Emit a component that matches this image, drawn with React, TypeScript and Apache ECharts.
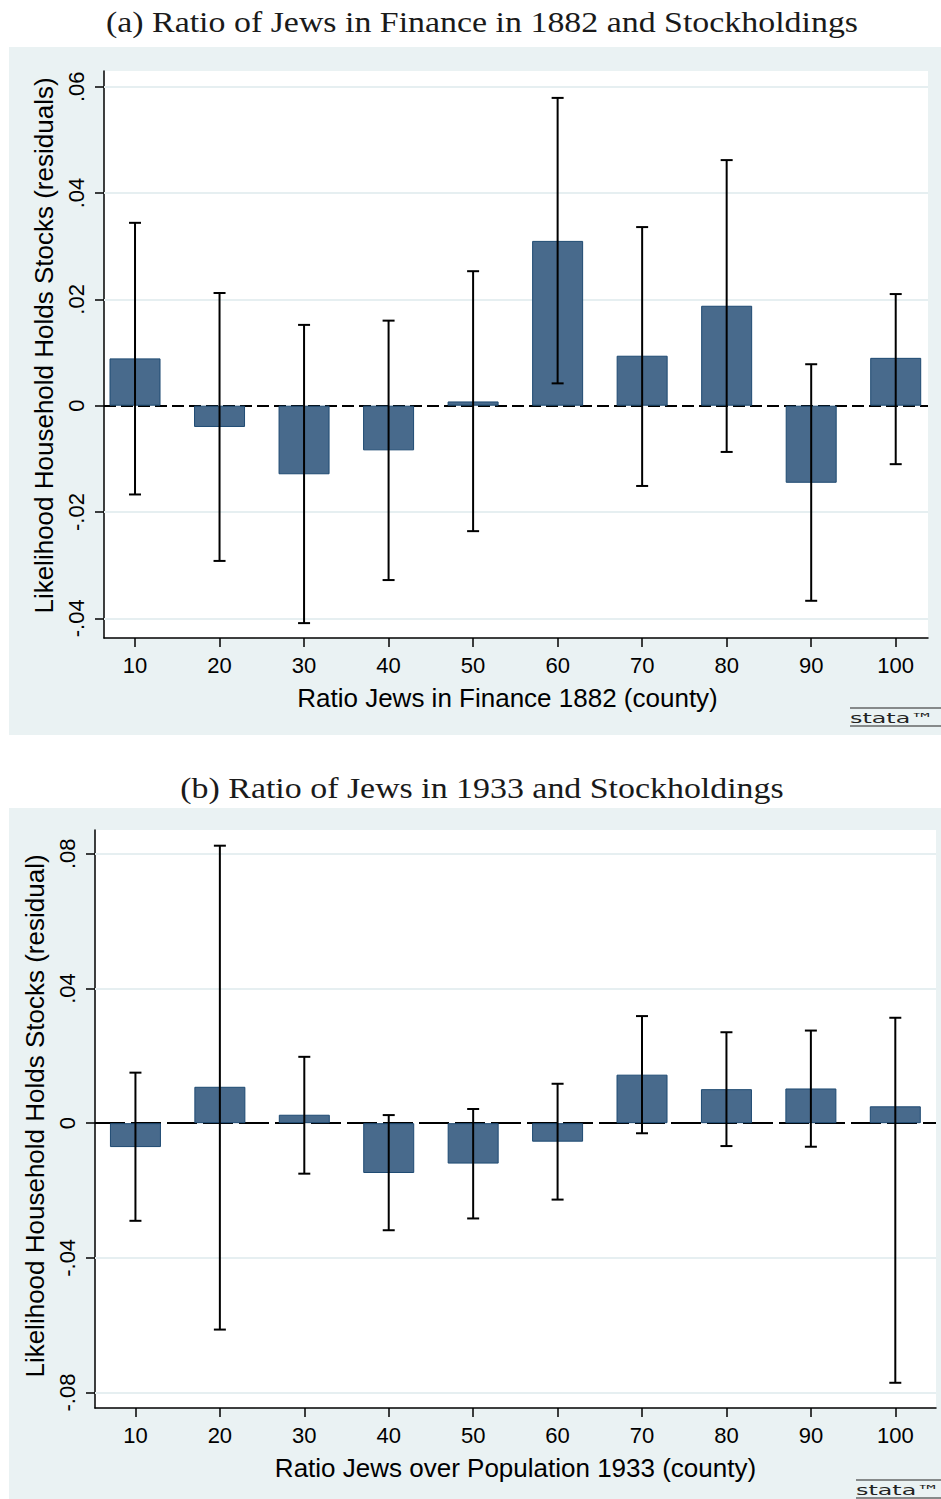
import React, { useEffect, useRef } from "react";
import * as echarts from "echarts";

// ---------- data ----------
const categories = [10, 20, 30, 40, 50, 60, 70, 80, 90, 100];

// Panel (a): Ratio of Jews in Finance 1882
const financeMeans = [0.0089, -0.004, -0.0129, -0.0084, 0.0008, 0.031, 0.0094, 0.0188, -0.0145, 0.009];
const financeUpper = [0.0344, 0.0212, 0.0152, 0.016, 0.0253, 0.0579, 0.0336, 0.0462, 0.0078, 0.021];
const financeLower = [-0.0167, -0.0292, -0.0409, -0.0328, -0.0236, 0.0042, -0.0151, -0.0087, -0.0367, -0.011];
const financeTicks = [-0.04, -0.02, 0, 0.02, 0.04, 0.06];

// Panel (b): Ratio of Jews over Population 1933
const popMeans = [-0.0071, 0.0108, 0.0025, -0.0148, -0.012, -0.0055, 0.0144, 0.0101, 0.0103, 0.005];
const popUpper = [0.015, 0.0824, 0.0197, 0.0024, 0.0042, 0.0117, 0.0318, 0.027, 0.0275, 0.0313];
const popLower = [-0.029, -0.0613, -0.015, -0.0318, -0.0283, -0.0227, -0.003, -0.0068, -0.007, -0.0771];
const popTicks = [-0.08, -0.04, 0, 0.04, 0.08];

const titleA = "(a) Ratio of Jews in Finance in 1882 and Stockholdings";
const titleB = "(b) Ratio of Jews in 1933 and Stockholdings";
const xNameA = "Ratio Jews in Finance 1882 (county)";
const xNameB = "Ratio Jews over Population 1933 (county)";
const yNameA = "Likelihood Household Holds Stocks (residuals)";
const yNameB = "Likelihood Household Holds Stocks (residual)";

// ---------- styles ----------
const PANEL = "#EAF2F3";
const GRIDLINE = "#E6EFF1";
const BAR = "#486A8C";
const BAR_EDGE = "#1E4A72";
const SANS = "Liberation Sans";
const SERIF = "Liberation Serif";

const fmtY = (v: number) => {
  const r = Math.round(v * 100) / 100;
  if (r === 0) return "0";
  const s = Math.abs(r).toFixed(2).replace(/^0/, "");
  return (r < 0 ? "-" : "") + s;
};

function errorRender(params: any, api: any) {
  const x = api.value(0);
  const lo = api.value(1);
  const hi = api.value(2);
  const pHi = api.coord([x, hi]);
  const pLo = api.coord([x, lo]);
  const cap = 6;
  const style = { stroke: "#000", lineWidth: 2 };
  return {
    type: "group",
    children: [
      { type: "line", shape: { x1: pHi[0], y1: pHi[1], x2: pLo[0], y2: pLo[1] }, style },
      { type: "line", shape: { x1: pHi[0] - cap, y1: pHi[1], x2: pHi[0] + cap, y2: pHi[1] }, style },
      { type: "line", shape: { x1: pLo[0] - cap, y1: pLo[1], x2: pLo[0] + cap, y2: pLo[1] }, style },
    ],
  };
}

function makeXAxis(gridIndex: number, min: number, max: number, name: string, namePad: number[]) {
  return {
    type: "value",
    gridIndex,
    min,
    max,
    name,
    nameLocation: "middle",
    nameGap: 47,
    nameTextStyle: { fontFamily: SANS, fontSize: 26, color: "#000", padding: namePad },
    axisLine: { show: true, onZero: false, lineStyle: { color: "#000", width: 1.5 } },
    axisTick: { show: true, length: 9, lineStyle: { color: "#000", width: 1.5 }, customValues: categories },
    axisLabel: {
      show: true,
      fontFamily: SANS,
      fontSize: 22,
      color: "#000",
      margin: 16,
      customValues: categories,
      formatter: (v: number) => String(Math.round(v)),
    },
    splitLine: { show: false },
  };
}

function makeYAxis(
  gridIndex: number,
  min: number,
  max: number,
  ticks: number[],
  name: string,
  nameGap: number,
  namePad: number[]
) {
  return {
    type: "value",
    gridIndex,
    min,
    max,
    name,
    nameLocation: "middle",
    nameGap,
    nameRotate: 90,
    nameTextStyle: { fontFamily: SANS, fontSize: 26, color: "#000", padding: namePad },
    axisLine: { show: true, onZero: false, lineStyle: { color: "#000", width: 1.5 } },
    axisTick: { show: true, length: 9, lineStyle: { color: "#000", width: 1.5 }, customValues: ticks },
    axisLabel: {
      show: true,
      rotate: 90,
      fontFamily: SANS,
      fontSize: 22,
      color: "#000",
      margin: 17,
      customValues: ticks,
      formatter: fmtY,
    },
    splitLine: { show: false },
  };
}

function barSeries(idx: number, means: number[], ticks: number[], dash: number[]) {
  return {
    type: "bar",
    xAxisIndex: idx,
    yAxisIndex: idx,
    barWidth: 51,
    z: 2,
    itemStyle: { color: BAR, borderColor: BAR_EDGE, borderWidth: 1 },
    data: categories.map((c, i) => [c, means[i]]),
    markLine: {
      silent: true,
      z: 1,
      symbol: "none",
      label: { show: false },
      data: [
        ...ticks
          .filter((t) => Math.abs(t) > 1e-9)
          .map((t) => ({ yAxis: t, lineStyle: { color: GRIDLINE, width: 2, type: "solid" } })),
        { yAxis: 0, lineStyle: { color: "#000", width: 2, type: dash } },
      ],
    },
  };
}

function errSeries(idx: number, lower: number[], upper: number[]) {
  return {
    type: "custom",
    xAxisIndex: idx,
    yAxisIndex: idx,
    z: 3,
    renderItem: errorRender,
    encode: { x: 0, y: [1, 2] },
    data: categories.map((c, i) => [c, lower[i], upper[i]]),
  };
}

function stataLogo(x: number, yTop: number, yBot: number) {
  return {
    type: "group",
    children: [
      { type: "line", shape: { x1: x, y1: yTop, x2: 941, y2: yTop }, style: { stroke: "#222", lineWidth: 1.2 } },
      {
        type: "text",
        x: x,
        y: (yTop + yBot) / 2 + 1,
        scaleX: 1.7,
        style: {
          text: "stata™",
          fontFamily: "DejaVu Sans",
          fontSize: 14,
          fill: "#222",
          textVerticalAlign: "middle",
          textAlign: "left",
        },
      },
      { type: "line", shape: { x1: x, y1: yBot, x2: 941, y2: yBot }, style: { stroke: "#222", lineWidth: 1.2 } },
    ],
  };
}

function title(text: string, y: number) {
  return {
    type: "text",
    x: 482,
    y,
    scaleX: 1.13,
    style: {
      text,
      fontFamily: SERIF,
      fontSize: 30,
      fill: "#1a1a1a",
      textAlign: "center",
      textVerticalAlign: "middle",
    },
  };
}

export default function App() {
  const ref = useRef<HTMLDivElement>(null);

  useEffect(() => {
    if (!ref.current) return;
    const chart = echarts.init(ref.current, undefined, { renderer: "svg" });
    const option: any = {
      animation: false,
      backgroundColor: "#fff",
      grid: [
        { left: 104, top: 71, width: 824, height: 567, show: true, backgroundColor: "#fff", borderWidth: 0, z: 0 },
        { left: 95, top: 830, width: 841, height: 578, show: true, backgroundColor: "#fff", borderWidth: 0, z: 0 },
      ],
      xAxis: [
        makeXAxis(0, 6.33, 103.82, xNameA, [0, 17, 0, 0]),
        makeXAxis(1, 5.21, 104.82, xNameB, [0, 0, 0, 0]),
      ],
      yAxis: [
        makeYAxis(0, -0.0437, 0.06296, financeTicks, yNameA, 45, [0, 0, 0, 18]),
        makeYAxis(1, -0.08459, 0.08706, popTicks, yNameB, 47, [0, 0, 0, 6]),
      ],
      graphic: [
        { type: "rect", z: -10, shape: { x: 9, y: 47, width: 932, height: 688 }, style: { fill: PANEL } },
        { type: "rect", z: -10, shape: { x: 9, y: 808, width: 932, height: 691 }, style: { fill: PANEL } },
        title(titleA, 22),
        title(titleB, 788),
        stataLogo(850, 708, 726),
        stataLogo(856, 1480, 1498),
      ],
      series: [
        barSeries(0, financeMeans, financeTicks, [12, 5]),
        errSeries(0, financeLower, financeUpper),
        barSeries(1, popMeans, popTicks, [30, 6]),
        errSeries(1, popLower, popUpper),
      ],
    };
    chart.setOption(option);
    return () => chart.dispose();
  }, []);

  return (
    <div
      ref={ref}
      style={{ position: "absolute", left: 0, top: 0, width: 941, height: 1499 }}
    />
  );
}
